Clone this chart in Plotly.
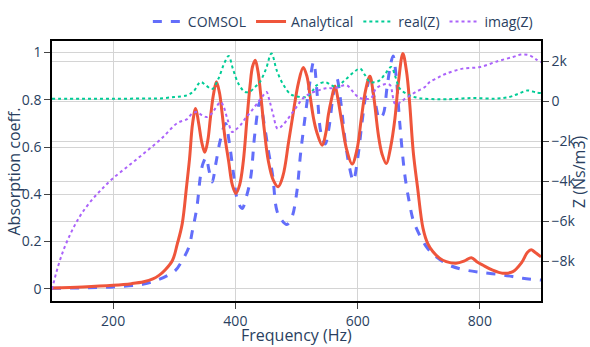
import plotly.graph_objects as go

# ---- data ----
freq_comsol = [100, 150, 200, 250, 275, 290, 302, 313, 324, 330, 337, 343, 347, 352, 357, 362, 368, 375, 384, 390,
               397, 403, 411, 418, 425, 432, 440, 447, 454, 461, 468, 476, 484, 492, 500, 507, 514, 521, 528, 534,
               540, 547, 553, 560, 566, 572, 580, 587, 593, 600, 607, 614, 620, 628, 636, 642, 648, 654, 658, 663,
               669, 677, 685, 691, 700, 712, 722, 734, 750, 770, 800, 837, 870, 900]
alpha_comsol = [0.002, 0.004, 0.008, 0.02, 0.04, 0.058, 0.078, 0.12, 0.177, 0.25, 0.345, 0.48, 0.53, 0.555, 0.50, 0.452,
                0.53, 0.625, 0.70, 0.62, 0.486, 0.38, 0.34, 0.39, 0.47, 0.66, 0.79, 0.70, 0.585, 0.48, 0.33, 0.29,
                0.272, 0.30, 0.40, 0.58, 0.726, 0.86, 0.96, 0.82, 0.66, 0.613, 0.68, 0.82, 0.89, 0.80, 0.62, 0.51,
                0.458, 0.55, 0.70, 0.83, 0.888, 0.80, 0.72, 0.74, 0.85, 0.95, 0.986, 0.90, 0.70, 0.486, 0.36, 0.29,
                0.235, 0.18, 0.15, 0.125, 0.10, 0.083, 0.07, 0.059, 0.045, 0.037]

freq_analytical = [100, 150, 200, 230, 250, 265, 275, 285, 297, 305, 313, 320, 325, 330, 335, 340, 345, 350, 355, 359,
                   364, 369, 374, 378, 383, 389, 395, 401, 407, 413, 419, 424, 428, 432.5, 437, 441, 447, 454, 462, 470,
                   478, 487, 495, 503, 511, 517, 522, 528, 533, 542, 548, 552, 557, 563, 568, 574, 582, 591, 599, 606,
                   613, 620, 626, 634, 640, 647, 654, 661, 667, 674, 680, 685, 691, 698, 707, 715, 723, 734, 745, 761,
                   775, 786, 795, 805, 820, 837, 854, 868, 878, 884, 890, 900]
alpha_analytical = [0.004, 0.008, 0.015, 0.022, 0.03, 0.042, 0.057, 0.08, 0.12, 0.19, 0.275, 0.43, 0.55, 0.70, 0.763,
                    0.70, 0.62, 0.578, 0.63, 0.72, 0.82, 0.876, 0.83, 0.75, 0.64, 0.54, 0.44, 0.404, 0.44, 0.54, 0.72,
                    0.86, 0.94, 0.968, 0.92, 0.834, 0.68, 0.54, 0.46, 0.432, 0.48, 0.62, 0.75, 0.87, 0.937, 0.90, 0.82,
                    0.72, 0.665, 0.608, 0.66, 0.735, 0.80, 0.859, 0.80, 0.707, 0.59, 0.528, 0.59, 0.72, 0.84, 0.90,
                    0.82, 0.65, 0.57, 0.53, 0.60, 0.72, 0.88, 0.996, 0.92, 0.79, 0.58, 0.43, 0.256, 0.19, 0.158, 0.13,
                    0.115, 0.108, 0.118, 0.132, 0.115, 0.10, 0.08, 0.066, 0.073, 0.11, 0.155, 0.165, 0.155, 0.135]

freq_real = [100, 150, 200, 250, 275, 300, 321, 332, 343, 352, 362, 372, 382, 389, 396, 405, 416, 424, 432, 440, 450,
             459, 468, 479, 490, 498, 508, 517, 525, 533, 547, 556, 566, 574, 582, 594, 604, 612, 620, 628, 636, 646,
             655, 662, 669, 685, 700, 720, 745, 786, 826, 848, 862, 878, 892, 900]
real_z = [120, 115, 115, 125, 130, 200, 285, 500, 950, 780, 600, 1100, 1900, 2250, 1600, 870, 450, 480, 700, 950, 1600,
          2370, 1500, 785, 350, 250, 200, 200, 450, 785, 950, 800, 700, 900, 1120, 1450, 1620, 1300, 950, 950, 1035,
          1400, 1700, 1200, 620, 285, 150, 100, 85, 150, 120, 200, 350, 530, 430, 400]

freq_imag = [100, 110, 120, 130, 140, 150, 165, 180, 199, 226, 253, 280, 305, 321, 329, 337, 345, 353, 362, 367, 376,
             381, 387, 395, 400, 408, 416, 425, 438, 446, 451, 456, 462, 469, 476, 484, 492, 500, 508, 515, 522, 536,
             548, 563, 582, 590, 597, 604, 613, 622, 630, 639, 647, 653, 661, 666, 672, 682, 695, 710, 718, 730, 745,
             772, 800, 830, 854, 867, 881, 892, 900]
imag_z = [-9400, -8250, -7350, -6650, -6050, -5550, -4950, -4450, -3880, -3215, -2550, -1850, -1100, -900, -630, -550,
          -700, -800, -600, -380, -50, -300, -900, -1550, -1450, -1215, -880, -550, -20, 300, 450, 0, -700, -1380,
          -1250, -965, -630, -300, 50, 250, 370, 535, 640, 650, 785, 550, 300, 150, 100, 150, 620, 785, 850, 800,
          -130, -130, 0, 200, 450, 700, 950, 1150, 1370, 1620, 1700, 2000, 2200, 2320, 2285, 2080, 1950]

x_title = "Frequency (Hz)"
y_title = "Absorption coeff."
y2_title = "Z (Ns/m3)"

# ---- figure ----
fig = go.Figure()
fig.add_trace(go.Scatter(x=freq_comsol, y=alpha_comsol, name="COMSOL", mode="lines", line_shape="spline",
                         line=dict(color="#636efa", width=3, dash="dash")))
fig.add_trace(go.Scatter(x=freq_analytical, y=alpha_analytical, name="Analytical", mode="lines", line_shape="spline",
                         line=dict(color="#EF553B", width=3)))
fig.add_trace(go.Scatter(x=freq_real, y=real_z, name="real(Z)", mode="lines", line_shape="spline", yaxis="y2",
                         line=dict(color="#00cc96", width=2, dash="dot")))
fig.add_trace(go.Scatter(x=freq_imag, y=imag_z, name="imag(Z)", mode="lines", line_shape="spline", yaxis="y2",
                         line=dict(color="#ab63fa", width=2, dash="dot")))

axis_common = dict(showgrid=True, gridcolor="#d4d4d4", showline=True, linecolor="black", linewidth=1.5,
                   ticks="outside", ticklen=6, tickcolor="#444", zeroline=False)
title_font = dict(size=16, color="#2a3f5f")

fig.update_layout(
    width=590, height=347,
    margin=dict(l=52, r=49, t=41, b=46, autoexpand=False),
    paper_bgcolor="white", plot_bgcolor="white",
    font=dict(family="Open Sans", size=14, color="#2a3f5f"),
    xaxis=dict(range=[100, 900], mirror=True, **axis_common),
    yaxis=dict(range=[-0.0515, 1.049], dtick=0.2, **axis_common),
    yaxis2=dict(range=[-9990, 3000], dtick=2000, overlaying="y", side="right", **axis_common),
    legend=dict(orientation="h", x=0.196, xanchor="left", y=1.012, yanchor="bottom", bgcolor="rgba(0,0,0,0)"),
    showlegend=True,
    annotations=[
        dict(text=x_title, xref="paper", yref="paper", x=0.5, y=-0.132, xanchor="center", yanchor="middle",
             showarrow=False, font=title_font),
        dict(text=y_title, xref="paper", yref="paper", x=-0.0767, y=0.5, xanchor="center", yanchor="middle",
             textangle=-90, showarrow=False, font=title_font),
        dict(text=y2_title, xref="paper", yref="paper", x=1.0777, y=0.5, xanchor="center", yanchor="middle",
             textangle=-90, showarrow=False, font=title_font),
    ],
)

fig.write_html("out.html")
